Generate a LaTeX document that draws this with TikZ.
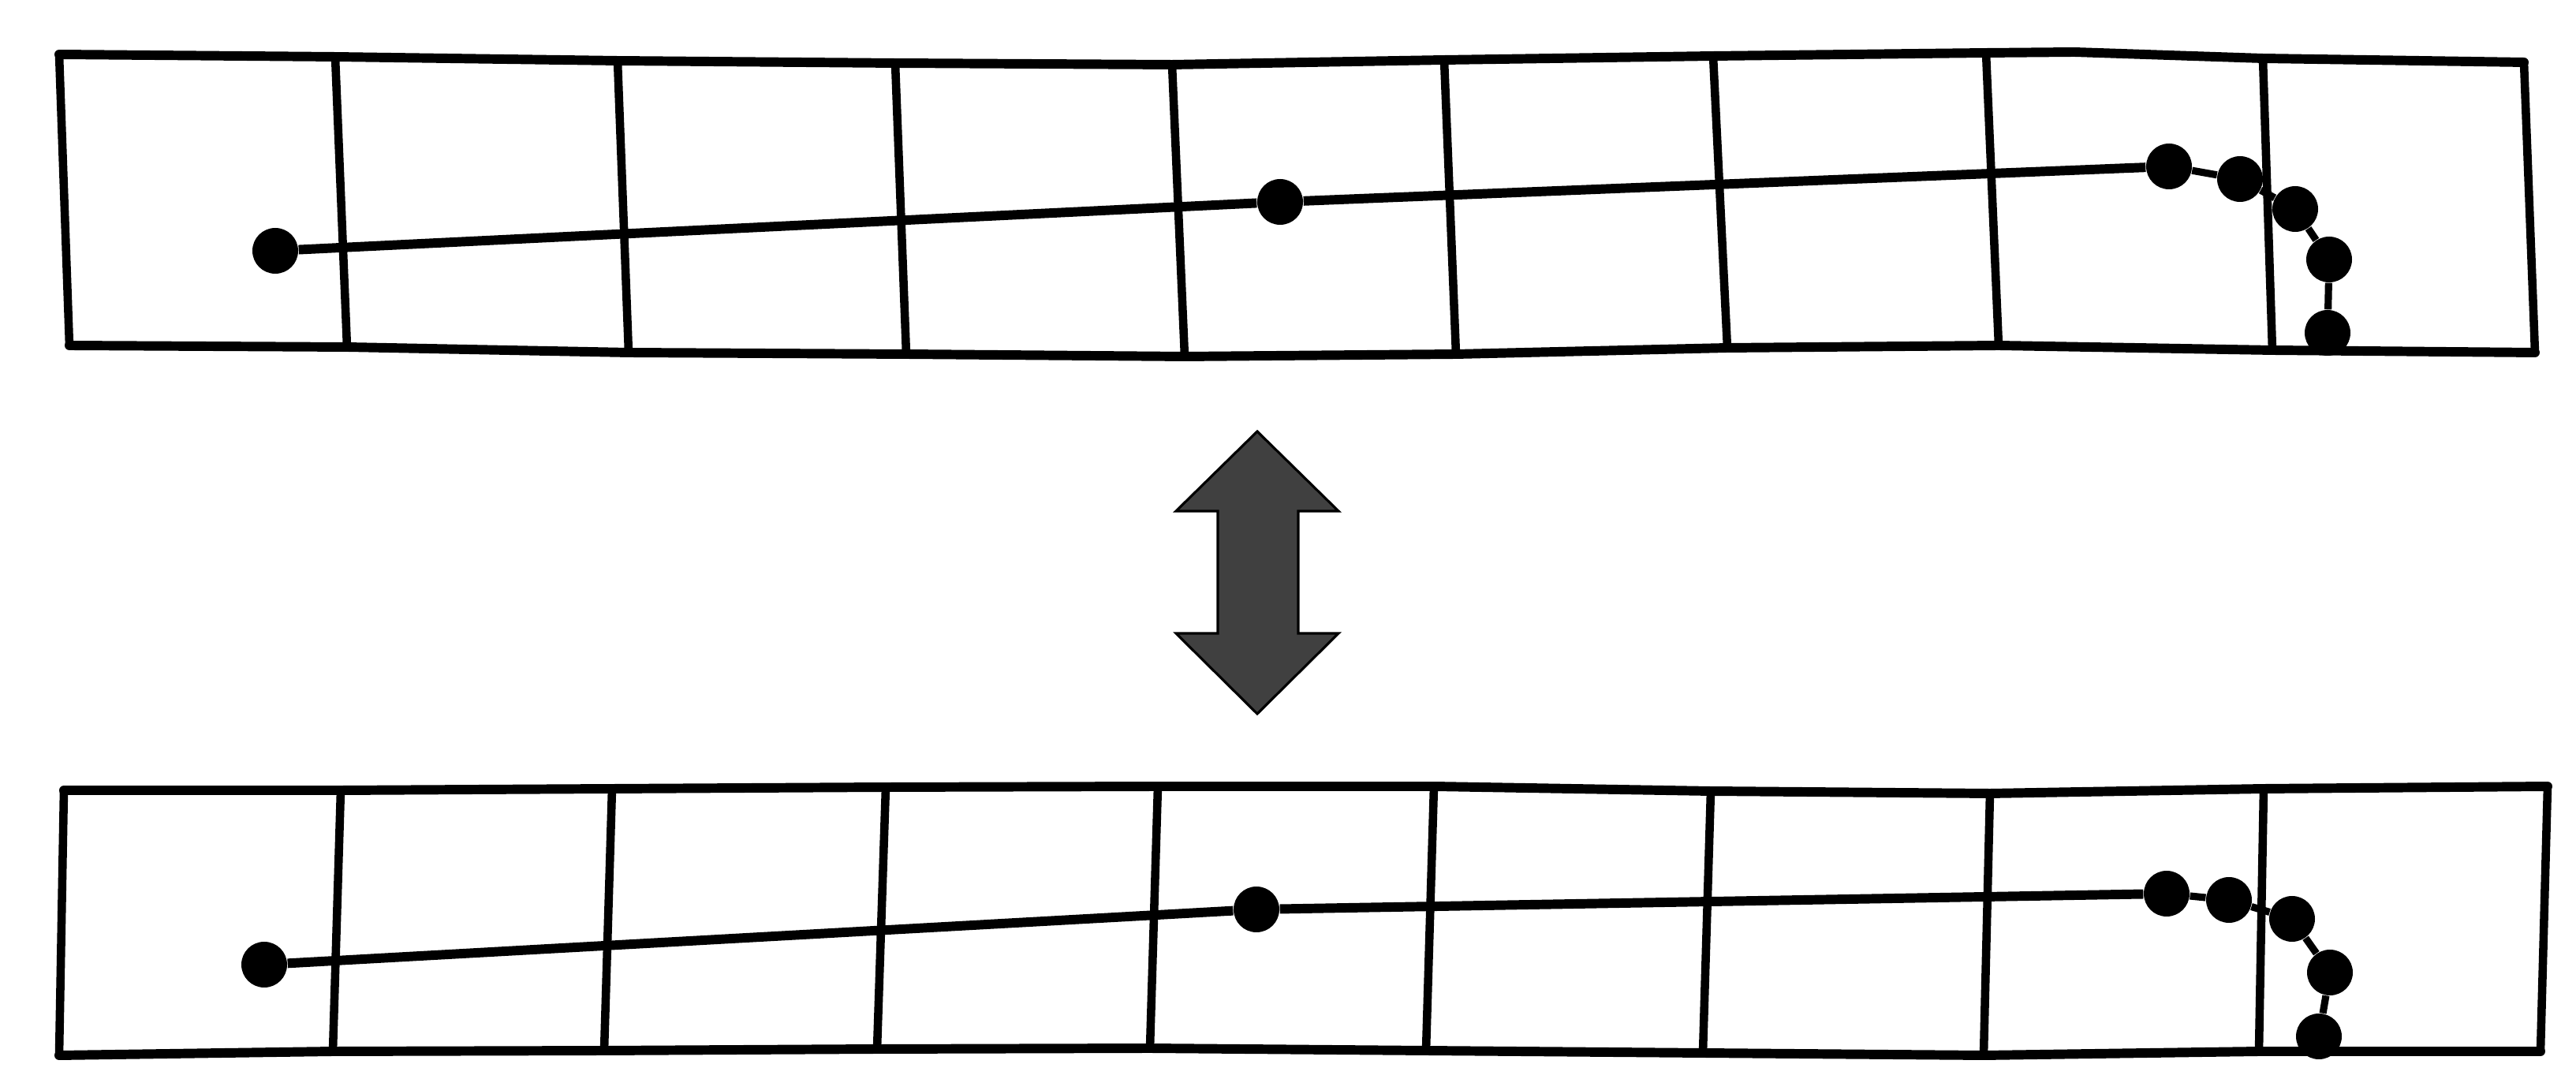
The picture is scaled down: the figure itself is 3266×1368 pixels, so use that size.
\documentclass[tikz,border=0pt]{standalone}
\definecolor{arrowgray}{RGB}{64,64,64}
\begin{document}
\begin{tikzpicture}[x=0.1mm,y=-0.1mm,
  edgeline/.style={line width=3.4pt, line cap=round, line join=round},
  gridline/.style={line width=3pt},
  dot/.style={circle, fill=black, minimum size=5.8mm, inner sep=0pt},
  mainlink/.style={line width=3.4pt},
  chainlink/.style={line width=2.6pt},
  bigarrow/.style={fill=arrowgray, draw=black, line width=0.9pt, line join=miter}]
\useasboundingbox (0,0) rectangle (3266,1368);
% ---- top band mesh
\foreach \i/\x/\y in {0/75/69,1/425/72,2/783/77,3/1135/80,4/1486/82,5/1831/76,6/2172/71,7/2518/67,8/2869/74,9/3200/79}
  \coordinate (TT\i) at (\x,\y);
\foreach \i/\x/\y in {0/88/438,1/440/440,2/797/447,3/1149/449,4/1502/452,5/1846/449,6/2190/441,7/2534/438,8/2881/444,9/3214/447}
  \coordinate (TB\i) at (\x,\y);
\coordinate (TTk) at (2630,66);
% ---- bottom band mesh
\foreach \i/\x/\y in {0/81/1002,1/432/1002,2/776/1000,3/1123/998,4/1468/997,5/1818/997,6/2169/1003,7/2523/1006,8/2870/1000,9/3230/997}
  \coordinate (BT\i) at (\x,\y);
\foreach \i/\x/\y in {0/75/1338,1/422/1333,2/766/1332,3/1112/1330,4/1458/1329,5/1808/1332,6/2159/1335,7/2515/1338,8/2864/1333,9/3221/1333}
  \coordinate (BB\i) at (\x,\y);
% vertical grid lines
\foreach \i in {0,...,9} {
  \draw[gridline] (TT\i) -- (TB\i);
  \draw[gridline] (BT\i) -- (BB\i);
}
% horizontal edges
\draw[edgeline] (TT0) -- (TT1) -- (TT2) -- (TT3) -- (TT4) -- (TT5) -- (TT6) -- (TT7) -- (TTk) -- (TT8) -- (TT9);
\draw[edgeline] (TB0) -- (TB1) -- (TB2) -- (TB3) -- (TB4) -- (TB5) -- (TB6) -- (TB7) -- (TB8) -- (TB9);
\draw[edgeline] (BT0) -- (BT1) -- (BT2) -- (BT3) -- (BT4) -- (BT5) -- (BT6) -- (BT7) -- (BT8) -- (BT9);
\draw[edgeline] (BB0) -- (BB1) -- (BB2) -- (BB3) -- (BB4) -- (BB5) -- (BB6) -- (BB7) -- (BB8) -- (BB9);
% ---- top chain
\node[dot] (d1) at (349,318) {};
\node[dot] (d2) at (1623,256) {};
\node[dot] (d3) at (2750,211) {};
\node[dot] (d4) at (2840,227) {};
\node[dot] (d5) at (2910,265) {};
\node[dot] (d6) at (2953,329) {};
\node[dot] (d7) at (2951,422) {};
\draw[mainlink] (d1) -- (d2);
\draw[mainlink] (d2) -- (d3);
\draw[chainlink] (d3) -- (d4);
\draw[chainlink] (d4) -- (d5);
\draw[chainlink] (d5) -- (d6);
\draw[chainlink] (d6) -- (d7);
% ---- bottom chain
\node[dot] (e1) at (335,1223) {};
\node[dot] (e2) at (1593,1153) {};
\node[dot] (e3) at (2747,1133) {};
\node[dot] (e4) at (2826,1141) {};
\node[dot] (e5) at (2906,1165) {};
\node[dot] (e6) at (2954,1233) {};
\node[dot] (e7) at (2940,1314) {};
\draw[mainlink] (e1) -- (e2);
\draw[mainlink] (e2) -- (e3);
\draw[chainlink] (e3) -- (e4);
\draw[chainlink] (e4) -- (e5);
\draw[chainlink] (e5) -- (e6);
\draw[chainlink] (e6) -- (e7);
% ---- double arrow
\draw[bigarrow] (1594,547) -- (1697,648) -- (1646,648) -- (1646,803) -- (1697,803) -- (1594,905)
  -- (1491,803) -- (1544,803) -- (1544,648) -- (1491,648) -- cycle;
\end{tikzpicture}
\end{document}
